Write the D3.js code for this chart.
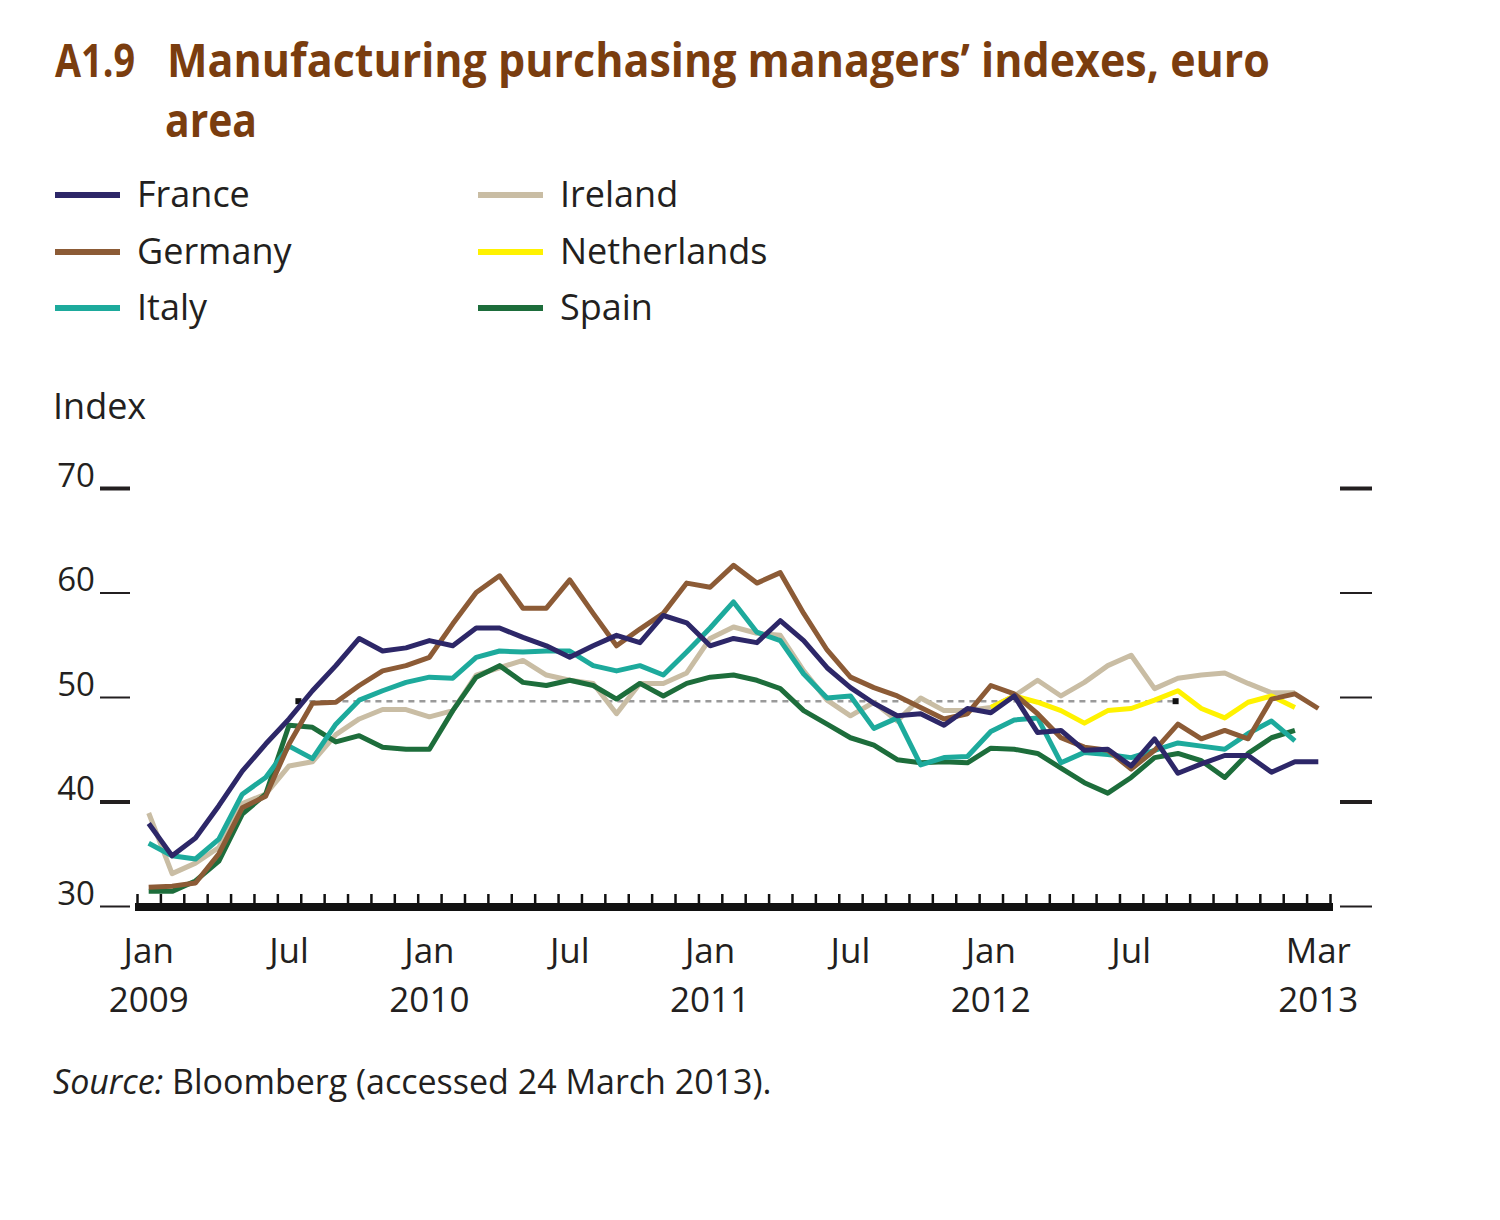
<!DOCTYPE html>
<html><head><meta charset="utf-8">
<script src="https://cdn.jsdelivr.net/npm/d3@7"></script>
<style>
body{margin:0;background:#fff;}
svg{display:block;}
text{font-family:"Open Sans","Noto Sans",sans-serif;}
</style></head>
<body>
<svg id="chart" width="1500" height="1220"></svg>
<script>
// ---- data (monthly, Jan 2009 – Mar 2013) ----
const monthCount = 51;
const france = [37.9,34.8,36.5,39.6,42.9,45.5,47.9,50.6,53.0,55.6,54.4,54.7,
  55.4,54.9,56.6,56.6,55.7,54.9,53.8,54.9,55.9,55.2,57.8,57.1,
  54.9,55.6,55.2,57.3,55.4,52.8,50.9,49.4,48.2,48.4,47.3,48.9,
  48.5,50.1,46.6,46.8,44.9,45.0,43.4,46.0,42.7,43.6,44.4,44.4,
  42.8,43.8,43.8];
const germany = [31.8,31.9,32.2,35.0,39.4,40.5,45.5,49.4,49.5,51.1,52.5,53.0,
  53.8,57.0,60.0,61.6,58.5,58.5,61.2,58.0,54.9,56.5,58.0,60.9,
  60.5,62.6,60.9,61.9,58.0,54.5,51.9,50.9,50.1,49.0,47.9,48.4,
  51.1,50.3,48.4,46.1,45.2,44.9,43.1,44.9,47.4,46.0,46.8,46.0,
  49.8,50.3,48.9];
const italy = [36.0,34.8,34.5,36.4,40.7,42.3,45.3,44.1,47.4,49.7,50.6,51.4,
  51.9,51.8,53.8,54.4,54.3,54.4,54.4,53.0,52.5,53.0,52.1,54.3,
  56.6,59.1,56.2,55.4,52.2,49.9,50.1,47.0,48.0,43.5,44.2,44.3,
  46.7,47.8,48.0,43.7,44.7,44.5,44.2,44.9,45.6,45.3,45.0,46.5,
  47.7,45.8,null];
const ireland = [38.9,33.1,34.1,35.6,39.8,40.7,43.4,43.8,46.4,47.9,48.8,48.8,
  48.1,48.7,52.1,52.8,53.5,52.1,51.6,51.3,48.4,51.3,51.3,52.3,
  55.6,56.7,56.1,55.9,52.5,49.7,48.2,49.5,47.7,49.9,48.7,48.7,
  49.0,50.1,51.6,50.1,51.4,53.0,54.0,50.8,51.8,52.1,52.3,51.3,
  50.4,50.4,null];
const netherlands = [null,null,null,null,null,null,null,null,null,null,null,null,
  null,null,null,null,null,null,null,null,null,null,null,null,
  null,null,null,null,null,null,null,null,null,null,null,null,
  49.0,50.1,49.5,48.7,47.5,48.7,48.9,49.7,50.6,48.9,48.0,49.5,
  50.1,49.0,null];
const spain = [31.4,31.4,32.4,34.3,38.8,40.7,47.3,47.1,45.7,46.3,45.2,45.0,
  45.0,48.7,51.9,53.0,51.4,51.1,51.6,51.1,49.8,51.3,50.1,51.3,
  51.9,52.1,51.6,50.8,48.7,47.4,46.1,45.4,44.0,43.7,43.8,43.7,
  45.1,45.0,44.6,43.2,41.8,40.8,42.3,44.2,44.6,43.9,42.3,44.6,
  46.1,46.8,null];

const seriesNames = ["France","Germany","Italy","Ireland","Netherlands","Spain"];
const seriesColors = ["#2d2768","#8c5b36","#1daa9c","#c9bda4","#fff200","#1d6d3b"];
const drawOrder = ["Ireland","Netherlands","Spain","Italy","Germany","France"];
const seriesData = {France:france,Germany:germany,Italy:italy,Ireland:ireland,Netherlands:netherlands,Spain:spain};

const yTicks = [30,40,50,60,70];
const xLabelIndex = [0,6,12,18,24,30,36,42,50];
const xLabelMonth = ["Jan","Jul","Jan","Jul","Jan","Jul","Jan","Jul","Mar"];
const xLabelYear  = ["2009","","2010","","2011","","2012","","2013"];
const refLevel = 49.6;
const refStart = 6.9, refEnd = 44.4;

// ---- drawing ----
const svg = d3.select("#chart");
const titleColor = "#7a3d0f";
const x = d3.scaleLinear().domain([0, monthCount]).range([137, 1330]);
const y = d3.scaleLinear().domain([30, 70]).range([906, 488]);

// title
svg.append("text").attr("x",55).attr("y",77).attr("fill",titleColor).attr("font-weight","bold")
  .attr("font-size",46).attr("textLength",80).attr("lengthAdjust","spacingAndGlyphs").text("A1.9");
svg.append("text").attr("x",167).attr("y",77).attr("fill",titleColor).attr("font-weight","bold")
  .attr("font-size",46).attr("textLength",1103).attr("lengthAdjust","spacingAndGlyphs")
  .text("Manufacturing purchasing managers\u2019 indexes, euro");
svg.append("text").attr("x",165).attr("y",137).attr("fill",titleColor).attr("font-weight","bold")
  .attr("font-size",46).attr("textLength",92).attr("lengthAdjust","spacingAndGlyphs").text("area");

// legend
const color = d3.scaleOrdinal().domain(seriesNames).range(seriesColors);
const legendCols = [55, 478], legendRows = [195, 252, 308];
seriesNames.forEach((n,i)=>{
  const cx = legendCols[Math.floor(i/3)], cy = legendRows[i%3];
  svg.append("line").attr("x1",cx).attr("x2",cx+65).attr("y1",cy).attr("y2",cy)
    .attr("stroke",color(n)).attr("stroke-width",6);
  svg.append("text").attr("x",cx+82).attr("y",cy+12).attr("font-size",36)
    .attr("fill","#231f20").text(n);
});

svg.append("text").attr("x",53).attr("y",419).attr("font-size",36).attr("fill","#231f20").text("Index");

// y axis left
const yAxisL = svg.append("g").attr("transform","translate(130,0)")
  .call(d3.axisLeft(y).tickValues(yTicks).tickSize(30).tickFormat(d3.format("d")));
yAxisL.select(".domain").remove();
yAxisL.selectAll(".tick line").attr("stroke","#231f20")
  .attr("stroke-width",d=>(d===70||d===40)?4:2);
yAxisL.selectAll(".tick text").attr("x",-35).attr("dy","-0.05em")
  .attr("font-size",33).attr("fill","#231f20").attr("font-family",'"Open Sans",sans-serif');

// y axis right
const yAxisR = svg.append("g").attr("transform","translate(1340,0)")
  .call(d3.axisRight(y).tickValues(yTicks).tickSize(32).tickFormat(""));
yAxisR.select(".domain").remove();
yAxisR.selectAll(".tick line").attr("stroke","#231f20")
  .attr("stroke-width",d=>(d===70||d===40)?4:2);

// x axis
const xAxis = svg.append("g").attr("transform","translate(0,903)")
  .call(d3.axisBottom(x).tickValues(d3.range(0, monthCount+1)).tickSize(-9).tickFormat(""));
xAxis.select(".domain").attr("stroke","#111").attr("stroke-width",8).attr("d",`M${x(0)-2},4H${x(monthCount)+3}`);
xAxis.selectAll(".tick line").attr("stroke","#111").attr("stroke-width",2.5);

xLabelIndex.forEach((idx,k)=>{
  const cx = x(idx+0.5);
  svg.append("text").attr("x",cx).attr("y",963).attr("text-anchor","middle")
    .attr("font-size",35).attr("fill","#231f20").text(xLabelMonth[k]);
  if (xLabelYear[k]) svg.append("text").attr("x",cx).attr("y",1012).attr("text-anchor","middle")
    .attr("font-size",35).attr("fill","#231f20").text(xLabelYear[k]);
});

// reference dashed line at 50
svg.append("line").attr("x1",x(refStart)).attr("x2",x(refEnd)).attr("y1",y(refLevel)).attr("y2",y(refLevel))
  .attr("stroke","#9a9a9a").attr("stroke-width",2.5).attr("stroke-dasharray","6,5");
[refStart, refEnd].forEach(v=>{
  svg.append("rect").attr("x",x(v)-3).attr("y",y(refLevel)-3).attr("width",6).attr("height",6).attr("fill","#111");
});

// lines
const line = d3.line().defined(d=>d!=null).x((d,i)=>x(i+0.5)).y(d=>y(d));
drawOrder.forEach(n=>{
  svg.append("path").datum(seriesData[n]).attr("d",line).attr("fill","none")
    .attr("stroke",color(n)).attr("stroke-width",5).attr("stroke-linejoin","round");
});

// source
const s = svg.append("text").attr("x",53).attr("y",1094).attr("font-size",34).attr("fill","#231f20");
s.append("tspan").attr("font-style","italic").text("Source:");
s.append("tspan").text(" Bloomberg (accessed 24 March 2013).");
</script>
</body></html>
